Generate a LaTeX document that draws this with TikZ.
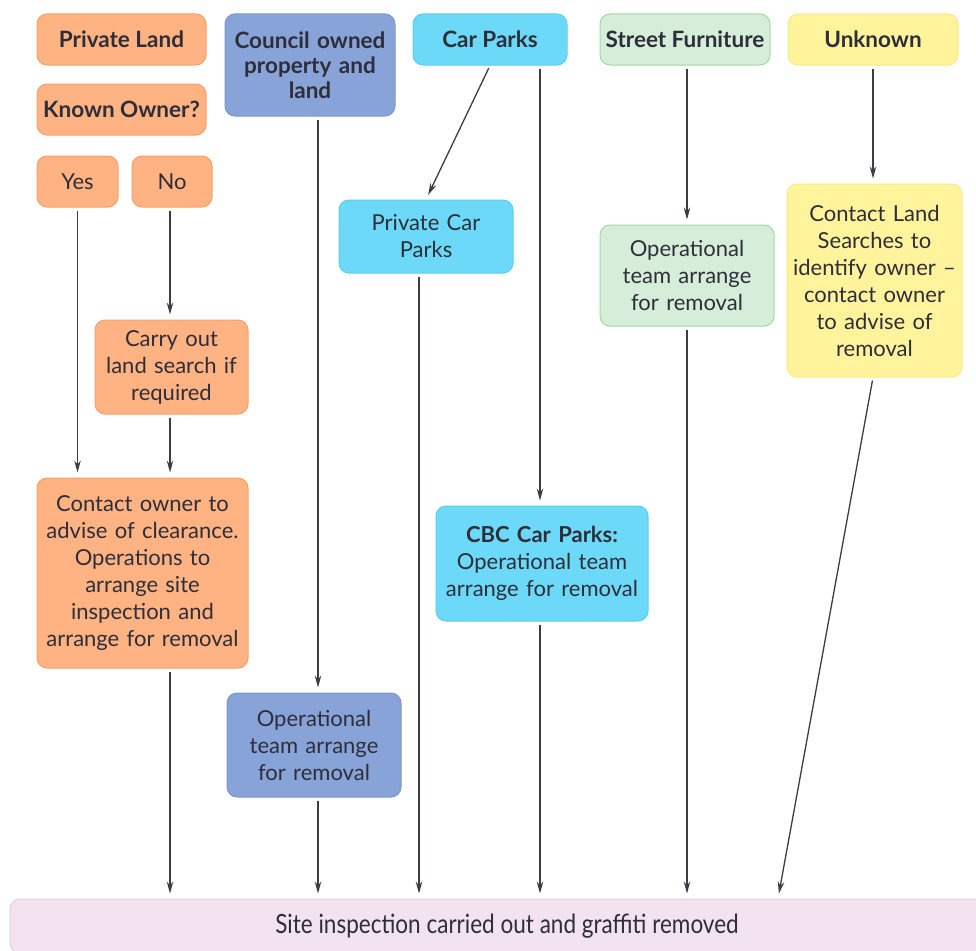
\documentclass[tikz,border=0pt]{standalone}
\usepackage{fontspec}
\setmainfont{Lato}
\newfontfamily\narrowfont[FakeStretch=0.85]{Lato}
\usetikzlibrary{arrows.meta}
\definecolor{orfill}{HTML}{FFB282}
\definecolor{ordraw}{HTML}{F9A06C}
\definecolor{blfill}{HTML}{87A3D8}
\definecolor{bldraw}{HTML}{7A97CF}
\definecolor{cyfill}{HTML}{6BD9F7}
\definecolor{cydraw}{HTML}{5CCEEE}
\definecolor{grfill}{HTML}{D6EED9}
\definecolor{grdraw}{HTML}{9ED8A7}
\definecolor{yefill}{HTML}{FFF39B}
\definecolor{yedraw}{HTML}{FBEA84}
\definecolor{pkfill}{HTML}{F3E2EF}
\definecolor{pkdraw}{HTML}{E6CCE0}
\definecolor{txt}{HTML}{2E2E3A}
\definecolor{arr}{HTML}{3C3C46}
\tikzset{
  box/.style={rectangle, rounded corners=10pt, line width=1pt, align=center, inner sep=0pt, text=txt},
  hdr/.style={box, font=\fontsize{22.5}{25}\selectfont\bfseries},
  body/.style={box, font=\fontsize{22}{27}\selectfont},
  orbox/.style={fill=orfill, draw=ordraw},
  blbox/.style={fill=blfill, draw=bldraw},
  cybox/.style={fill=cyfill, draw=cydraw},
  grbox/.style={fill=grfill, draw=grdraw},
  yebox/.style={fill=yefill, draw=yedraw},
  pkbox/.style={fill=pkfill, draw=pkdraw},
  conn/.style={draw=arr, line width=1.3pt, -{Stealth[length=12pt,width=6.5pt]}, shorten <=3pt, shorten >=5pt},
}
\begin{document}
\begin{tikzpicture}[x=1pt,y=-1pt]
\useasboundingbox (0,0) rectangle (976,950);
\clip (0,0) rectangle (976,950);
% column 1: private land
\node[hdr,orbox,minimum width=169pt,minimum height=51pt] (pl) at (121.5,39.5) {Private Land};
\node[hdr,orbox,minimum width=169pt,minimum height=51pt] (ko) at (121.5,109.5) {Known Owner?};
\node[body,orbox,minimum width=81pt,minimum height=51pt] (yes) at (77.5,181.5) {Yes};
\node[body,orbox,minimum width=80pt,minimum height=51pt] (no) at (172,181.5) {No};
\node[body,orbox,minimum width=153pt,minimum height=94pt,text width=150pt] (carry) at (171.5,367) {Carry out\\land search if\\required};
\node[body,orbox,minimum width=211pt,minimum height=190pt,text width=208pt] (contact) at (142.5,573) {Contact owner to\\advise of clearance.\\Operations to\\arrange site\\inspection and\\arrange for removal};
% column 2: council
\node[hdr,blbox,minimum width=170pt,minimum height=102pt,text width=166pt] (council) at (310,65) {Council owned\\property and\\land};
\node[body,blbox,minimum width=174pt,minimum height=104pt,text width=170pt] (opb) at (314,745) {Operational\\team arrange\\for removal};
% column 3: car parks
\node[hdr,cybox,minimum width=154pt,minimum height=51pt] (cp) at (490,39.5) {Car Parks};
\node[body,cybox,minimum width=174pt,minimum height=73pt,text width=170pt] (pcp) at (426,236.5) {Private Car\\Parks};
\node[body,cybox,minimum width=212pt,minimum height=115pt,text width=208pt] (cbc) at (542,563.5) {\textbf{CBC Car Parks:}\\Operational team\\arrange for removal};
% column 4: street furniture
\node[hdr,grbox,minimum width=170pt,minimum height=51pt] (sf) at (685,39.5) {Street Furniture};
\node[body,grbox,minimum width=174pt,minimum height=101pt,text width=170pt] (opg) at (687,275.5) {Operational\\team arrange\\for removal};
% column 5: unknown
\node[hdr,yebox,minimum width=170pt,minimum height=51pt] (unk) at (873,39.5) {Unknown};
\node[body,yebox,minimum width=175pt,minimum height=193pt,text width=172pt] (yel) at (874.5,280.5) {Contact Land\\Searches to\\identify owner --\\contact owner\\to advise of\\removal};
% bottom
\node[box,pkbox,minimum width=994pt,minimum height=54pt,font=\narrowfont\fontsize{26.5}{28}\selectfont] (site) at (507,926) {Site inspection carried out and graffiti removed};
% connectors
\draw[conn] (yes.south) -- (yes.south |- contact.north);
\draw[conn] ([xshift=-2pt]no.south) -- ([xshift=-2pt]no.south |- carry.north);
\draw[conn] ([xshift=-1.5pt]carry.south) -- ([xshift=-1.5pt]carry.south |- contact.north);
\draw[conn] ([xshift=8pt]council.south) -- ([xshift=8pt]council.south |- opb.north);
\draw[conn] (cp.south) -- (pcp.north);
\draw[conn] ([xshift=50pt]cp.south) -- ([xshift=50pt]cp.south |- cbc.north);
\draw[conn] ([xshift=2pt]sf.south) -- ([xshift=2pt]sf.south |- opg.north);
\draw[conn] (unk.south) -- (unk.south |- yel.north);
\draw[conn] ([xshift=27.5pt]contact.south) -- ([xshift=27.5pt]contact.south |- site.north);
\draw[conn] ([xshift=4pt]opb.south) -- ([xshift=4pt]opb.south |- site.north);
\draw[conn] ([xshift=-7pt]pcp.south) -- ([xshift=-7pt]pcp.south |- site.north);
\draw[conn] ([xshift=-2pt]cbc.south) -- ([xshift=-2pt]cbc.south |- site.north);
\draw[conn] (opg.south) -- (opg.south |- site.north);
\coordinate (ye) at ([xshift=271pt]site.north);
\draw[conn] ([xshift=-1.5pt]yel.south) -- (ye);
\end{tikzpicture}
\end{document}
